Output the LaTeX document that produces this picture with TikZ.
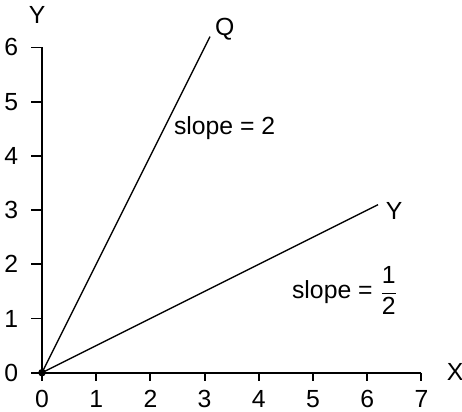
\documentclass[tikz,border=0pt]{standalone}
\usepackage{amsmath}
\usepackage{fontspec}
\setmainfont{Liberation Sans}

\begin{document}
\begin{tikzpicture}[font=\fontsize{13}{15}\selectfont]
\useasboundingbox (-0.775,-0.707) rectangle (7.749,6.876);
% axes:
\coordinate (O) at (0,0);
\coordinate (xend) at (7,0);
\coordinate (yend) at (0,6);
\draw[line width=1pt] (O) -- (xend) ;\draw[line width=1pt] (O) -- (yend) ;
\node (xlab) at (7.62,0.02) {X};
\node (ylab) at (-0.09,6.6) {Y};
% ticks on x:
\draw[line width=1pt] (0,0) -- (0,-0.15) node[below=1pt] (x0) {0};\draw[line width=1pt] (1,0) -- (1,-0.15) node[below=1pt] (x1) {1};
\draw[line width=1pt] (2,0) -- (2,-0.15) node[below=1pt] (x2) {2};\draw[line width=1pt] (3,0) -- (3,-0.15) node[below=1pt] (x3) {3};
\draw[line width=1pt] (4,0) -- (4,-0.15) node[below=1pt] (x4) {4};\draw[line width=1pt] (5,0) -- (5,-0.15) node[below=1pt] (x5) {5};
\draw[line width=1pt] (6,0) -- (6,-0.15) node[below=1pt] (x6) {6};\draw[line width=1pt] (7,0) -- (7,-0.15) node[below=1pt] (x7) {7};
% ticks on y:
\draw[line width=1pt] (0,0) -- (-0.2,0) node[left=3pt] (y0) {0};\draw[line width=1pt] (0,1) -- (-0.2,1) node[left=3pt] (y1) {1};
\draw[line width=1pt] (0,2) -- (-0.2,2) node[left=3pt] (y2) {2};\draw[line width=1pt] (0,3) -- (-0.2,3) node[left=3pt] (y3) {3};
\draw[line width=1pt] (0,4) -- (-0.2,4) node[left=3pt] (y4) {4};\draw[line width=1pt] (0,5) -- (-0.2,5) node[left=3pt] (y5) {5};
\draw[line width=1pt] (0,6) -- (-0.2,6) node[left=3pt] (y6) {6};
% the two lines:
\coordinate (Qend) at (3.1,6.2);
\coordinate (Yend) at (6.2,3.1);
\draw[line width=0.7pt] (O) -- (Qend) ;\node[anchor=west, inner sep=1pt] (Qlab) at (3.15,6.33) {Q};
\draw[line width=0.7pt] (O) -- (Yend) ;\node[anchor=west, inner sep=1pt] (Ylab) at (6.3,2.98) {Y};
\fill (O) circle (0.07);
% slopes:
\node (slopeQ) at (3.37,4.51) {slope = 2};
\node (slopeY) at (5.59,1.52) {slope = $\dfrac{\text{1}}{\text{2}}$};
\end{tikzpicture}
\end{document}
